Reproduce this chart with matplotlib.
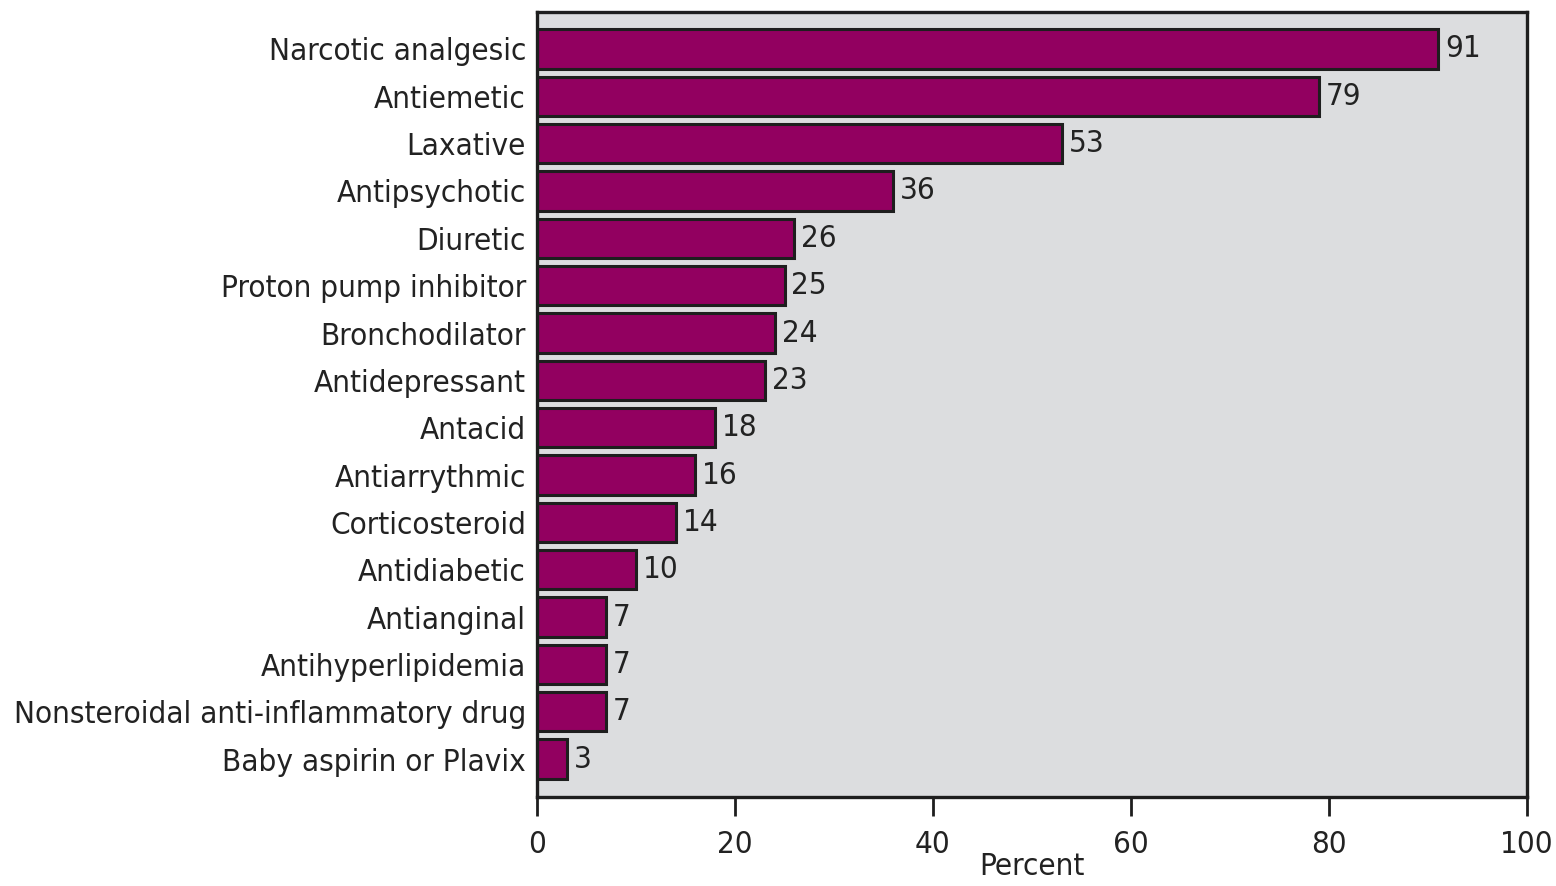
import matplotlib
matplotlib.use("Agg")
import matplotlib.pyplot as plt

categories = ["Narcotic analgesic", "Antiemetic", "Laxative", "Antipsychotic", "Diuretic",
              "Proton pump inhibitor", "Bronchodilator", "Antidepressant", "Antacid",
              "Antiarrythmic", "Corticosteroid", "Antidiabetic", "Antianginal",
              "Antihyperlipidemia", "Nonsteroidal anti-inflammatory drug", "Baby aspirin or Plavix"]
values = [91, 79, 53, 36, 26, 25, 24, 23, 18, 16, 14, 10, 7, 7, 7, 3]
xticks = [0, 20, 40, 60, 80, 100]

plt.rcParams['font.family'] = ['DejaVu Sans']
plt.rcParams['font.stretch'] = 'condensed'

fig = plt.figure(figsize=(15.56, 8.86), dpi=100)
ax = fig.add_axes([537/1556, 1-797/886, (1527-537)/1556, (797-12)/886])
ax.set_facecolor('#dcdddf')

pos = list(range(len(categories)))
ax.barh(pos, values, height=0.83, color='#920060', edgecolor='#1e1e1e', linewidth=2.2)
for p, v in zip(pos, values):
    ax.annotate(str(v), (v, p), xytext=(5, 0), textcoords='offset points',
                va='center', ha='left', fontsize=22.5, color='#222222')

ax.set_xlim(0, 100)
ax.set_ylim(15.8, -0.78)
ax.set_yticks(pos)
ax.set_yticklabels(categories, fontsize=22.5, color='#222222')
ax.set_xticks(xticks)
ax.set_xticklabels([str(t) for t in xticks], fontsize=22.5, color='#222222')
ax.tick_params(axis='y', length=0, pad=8)
ax.tick_params(axis='x', length=14, width=2, direction='out', pad=10, color='#1e1e1e')
for s in ax.spines.values():
    s.set_linewidth(2.4)
    s.set_color('#1e1e1e')
ax.set_xlabel("Percent", fontsize=22.5, color='#222222', labelpad=-5)

fig.savefig("out.png", dpi=100, facecolor='white')
